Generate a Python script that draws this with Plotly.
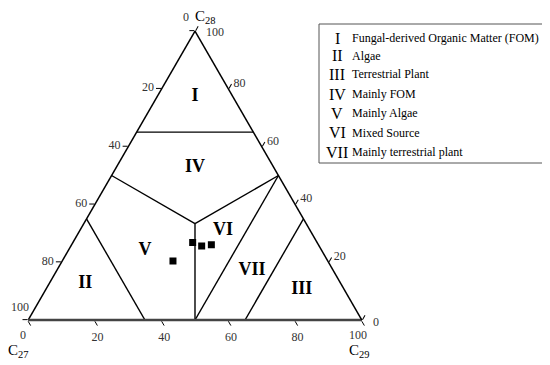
import plotly.graph_objects as go

# ---- data (percentages, C27 + C28 + C29 = 100) ----
sample_c27 = [37.3, 35.2, 32.1, 46.4]
sample_c28 = [26.8, 25.6, 26.0, 20.4]
sample_c29 = [35.9, 39.2, 41.9, 33.2]

# region boundary segments: (start, end) each as (C27, C28, C29)
third = 100 / 3
boundary_segments = [
    ((35, 65, 0), (0, 65, 35)),
    ((50, 50, 0), (third, third, third)),
    ((0, 50, 50), (third, third, third)),
    ((third, third, third), (50, 0, 50)),
    ((65, 35, 0), (65, 0, 35)),
    ((50, 0, 50), (0, 50, 50)),
    ((35, 0, 65), (0, 35, 65)),
]

region_names = ["I", "II", "III", "IV", "V", "VI", "VII"]
region_desc = ["Fungal-derived Organic Matter (FOM)", "Algae", "Terrestrial Plant",
               "Mainly FOM", "Mainly Algae", "Mixed Source", "Mainly terrestrial plant"]
region_c27 = [11.4, 76.5, 12.8, 23.7, 52.9, 26.2, 24.3]
region_c28 = [77.2, 12.8, 10.4, 52.6, 24.2, 30.8, 17.3]
region_c29 = [11.4, 10.7, 76.8, 23.7, 22.9, 43.0, 58.4]

tick_vals = [0, 20, 40, 60, 80, 100]
tick_text = ["", "80", "60", "40", "20", ""]
corner_labels = ["0", "100", "100", "0", "0", "100"]

# page body has an 8 px margin; figure sized to fill the rest of the window
OFF = 8
W, H = 550 - OFF, 365 - OFF
serif = "Liberation Serif, Times New Roman, serif"


def px(x):
    return (x - OFF) / W


def py(y):
    return 1 - (y - OFF) / H


fig = go.Figure()

# boundaries
ba, bb, bc = [], [], []
for s, e in boundary_segments:
    for p in (s, e):
        bb.append(p[0]); ba.append(p[1]); bc.append(p[2])
    ba.append(None); bb.append(None); bc.append(None)
fig.add_trace(go.Scatterternary(a=ba, b=bb, c=bc, mode="lines",
                                line=dict(color="black", width=1.4),
                                hoverinfo="skip", showlegend=False))

# region labels
fig.add_trace(go.Scatterternary(a=region_c28, b=region_c27, c=region_c29, mode="text",
                                text=["<b>%s</b>" % r for r in region_names],
                                textfont=dict(family=serif, size=18, color="black"),
                                hoverinfo="skip", showlegend=False))

# samples
fig.add_trace(go.Scatterternary(a=sample_c28, b=sample_c27, c=sample_c29, mode="markers",
                                marker=dict(symbol="square", size=7, color="black"),
                                showlegend=False))

axis_common = dict(tickmode="array", tickvals=tick_vals, ticktext=tick_text,
                   showgrid=False, ticks="outside", ticklen=5, tickcolor="black",
                   linecolor="black", linewidth=1.5, title=dict(text=""),
                   tickfont=dict(family=serif, size=12, color="#333"))

fig.update_layout(
    width=W, height=H,
    margin=dict(l=0, r=0, t=0, b=0),
    paper_bgcolor="white", plot_bgcolor="white",
    ternary=dict(
        sum=100,
        bgcolor="white",
        domain=dict(x=[px(28), px(362)], y=[py(320), py(31)]),
        aaxis=dict(**axis_common),
        baxis=dict(**axis_common),
        caxis=dict(**axis_common),
    ),
)
fig.layout.ternary.baxis.linewidth = 2.5
fig.layout.ternary.baxis.linecolor = "#444"

# corner tick labels (axis end values)
corner_pos = [(186, 17), (215, 32), (20, 307), (23, 335), (376, 322), (358, 335)]
for txt, (x, y) in zip(corner_labels, corner_pos):
    fig.add_annotation(xref="paper", yref="paper", x=px(x), y=py(y), text=txt,
                       showarrow=False, xanchor="center", yanchor="middle",
                       font=dict(family=serif, size=12, color="#333"))

# corner titles
for txt, x, y in [("C<sub>28</sub>", 205, 17), ("C<sub>27</sub>", 18, 351), ("C<sub>29</sub>", 359, 351)]:
    fig.add_annotation(xref="paper", yref="paper", x=px(x), y=py(y), text=txt,
                       showarrow=False, xanchor="center", yanchor="middle",
                       font=dict(family=serif, size=15, color="black"))

# legend box (annotations)
fig.add_shape(type="rect", xref="paper", yref="paper",
              x0=px(319), x1=px(545), y0=py(163), y1=py(24),
              line=dict(color="#555", width=1), fillcolor="white")
row_y = [38, 56, 74, 94, 113, 133, 152]
for name, desc, y in zip(region_names, region_desc, row_y):
    fig.add_annotation(xref="paper", yref="paper", x=px(337), y=py(y),
                       text=name, showarrow=False, xanchor="center", yanchor="middle",
                       font=dict(family=serif, size=16, color="black"))
    fig.add_annotation(xref="paper", yref="paper", x=px(350), y=py(y),
                       text=desc, showarrow=False, xanchor="left", yanchor="middle",
                       font=dict(family=serif, size=12, color="black"))

fig.write_html("out.html")
